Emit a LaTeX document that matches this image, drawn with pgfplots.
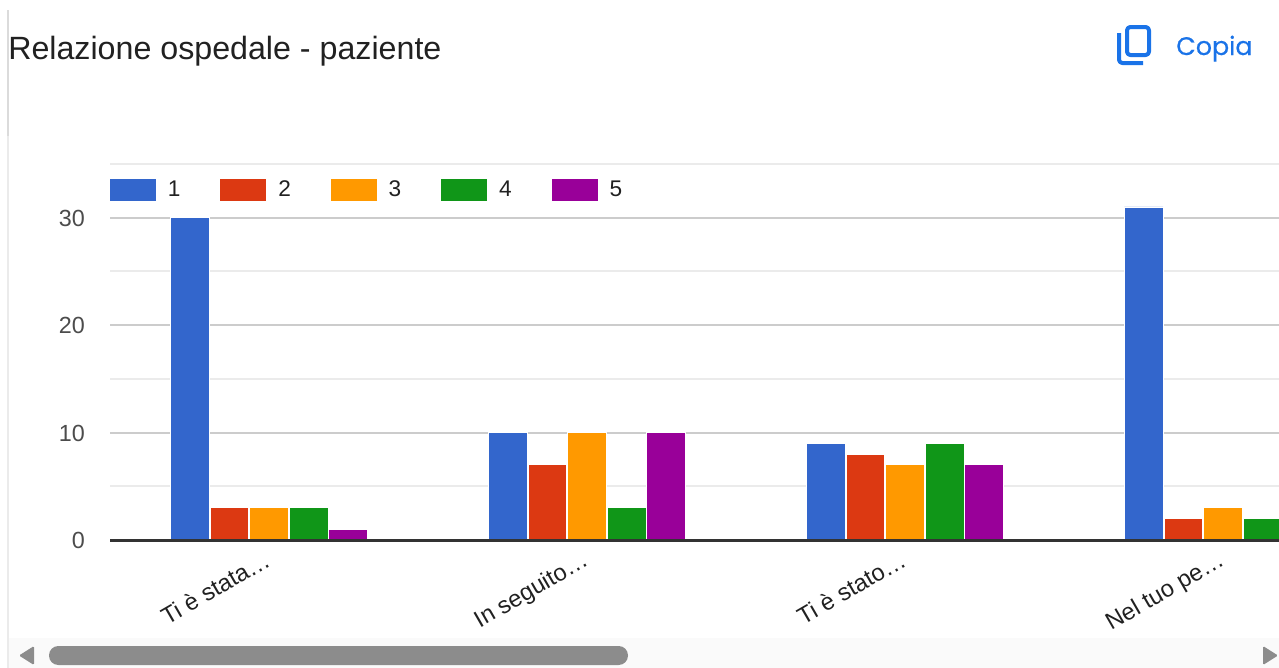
\documentclass[border=0pt]{standalone}
\usepackage{fontspec}
\setmainfont{Liberation Sans}
\newfontfamily\copiafont[FakeBold=0.4]{Poppins}
\usepackage{pgfplots}
\pgfplotsset{compat=1.18}
\definecolor{cA}{HTML}{3366CC}
\definecolor{cB}{HTML}{DC3912}
\definecolor{cC}{HTML}{FF9900}
\definecolor{cD}{HTML}{109618}
\definecolor{cE}{HTML}{990099}
\definecolor{gmaj}{HTML}{CCCCCC}
\definecolor{gmin}{HTML}{EBEBEB}
\definecolor{blu}{HTML}{1A73E8}
\begin{document}
\begin{tikzpicture}
\useasboundingbox (0,0) rectangle (959.25pt,-501pt);
\fill[white] (0,0) rectangle (959.25pt,-501pt);
\begin{scope}[x=0.75pt,y=-0.75pt]
% panel borders and scrollbar track
\fill[black!2] (8,638) rectangle (1279,668);
\fill[gmin] (7,136) rectangle (9,668);
\fill[black!14] (7,10) rectangle (9,136);
\node[anchor=base west,inner sep=0pt,font=\fontsize{24.15pt}{26pt}\selectfont,text=black!87] at (8,59) {Relazione ospedale - paziente};
\node[anchor=base west,inner sep=0pt,font=\fontsize{19pt}{24pt}\selectfont,text=blu] at (1176,55) {\copiafont Copia};
% copy icon
\draw[blu,line width=3pt,line join=round,rounded corners=2.5pt] (1127,27) rectangle (1149,55);
\draw[blu,line width=3pt,line join=round,rounded corners=2.5pt] (1119,33) -- (1119,63) -- (1143,63);
% scrollbar
\fill[black!45,rounded corners=7pt] (49,646) rectangle (628,665);
\fill[black!45,rounded corners=1pt] (34,646) -- (34,665) -- (19,655.5) -- cycle;
\fill[black!45,rounded corners=1pt] (1263,646) -- (1263,665) -- (1278,655.5) -- cycle;
\end{scope}
\begin{axis}[
  at={(82.5pt,-405pt)}, anchor=south west,
  scale only axis, width=876.75pt, height=282pt,
  xmin=-0.5, xmax=3.176, ymin=0, ymax=35,
  clip mode=individual,
  ybar=0.6pt, bar width=0.122,
  axis line style={draw=none},
  xtick={0,1,2,3},
  xticklabels={Ti è stata…,In seguito…,Ti è stato…,Nel tuo pe…},
  ytick={0,10,20,30}, minor ytick={5,15,25,35},
  major tick length=0pt, minor tick length=0pt,
  ymajorgrids, yminorgrids,
  major grid style={gmaj,line width=1.5pt},
  minor grid style={gmin,line width=1.5pt},
  /pgf/number format/assume math mode=true,
  y tick label style={font=\fontsize{17.5pt}{18pt}\selectfont,text=black!70,inner sep=0pt,xshift=-18.75pt,yshift=-0.3pt},
  x tick label style={font=\fontsize{17.8pt}{18pt}\selectfont,text=black!87,rotate=30,anchor=north east,inner sep=0pt,yshift=-4pt,xshift=-7.5pt},
  legend style={at={(0,1)},anchor=north west,xshift=-0.7pt,yshift=-10.5pt,draw=none,fill=none,inner sep=0pt,outer sep=0pt,
    font=\fontsize{17pt}{18pt}\selectfont,text=black!87,
    /tikz/every odd column/.append style={column sep=6.3pt},
    /tikz/every even column/.append style={column sep=27.2pt}},
  legend columns=5,
  legend cell align=left,
  legend image code/.code={\fill[#1] (0pt,-8.6pt) rectangle (35.25pt,8.6pt);},
  every axis plot/.append style={draw=white,line width=0.6pt},
]
\addplot[fill=cA] coordinates {(0,30) (1,10) (2,9) (3,31)};
\addplot[fill=cB] coordinates {(0,3) (1,7) (2,8) (3,2)};
\addplot[fill=cC] coordinates {(0,3) (1,10) (2,7) (3,3)};
\addplot[fill=cD] coordinates {(0,3) (1,3) (2,9) (3,2)};
\addplot[fill=cE] coordinates {(0,1) (1,10) (2,7)};
\legend{1,2,3,4,5}
\draw[black!80,line width=2.25pt] (rel axis cs:0,0) -- (rel axis cs:1,0);
\end{axis}
\end{tikzpicture}
\end{document}
